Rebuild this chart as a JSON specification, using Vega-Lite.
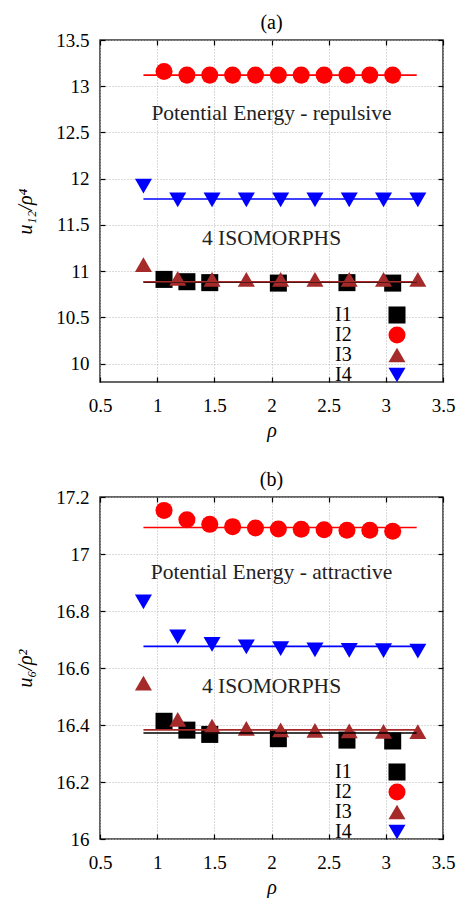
{
  "$schema": "https://vega.github.io/schema/vega-lite/v6.json",
  "padding": {"left": 15, "top": 12, "right": 0, "bottom": 0},
  "background": "white",
  "spacing": 28,
  "config": {
    "view": {"stroke": "#333333", "strokeWidth": 1.5},
    "font": "Liberation Serif",
    "axis": {
      "labelFont": "Liberation Serif",
      "labelFontSize": 19,
      "labelColor": "#000000",
      "titleFont": "Liberation Serif",
      "titleFontSize": 20,
      "titleFontWeight": "normal",
      "titleColor": "#000000",
      "domain": false,
      "tickColor": "#000000",
      "tickWidth": 1.2,
      "tickSize": -5,
      "labelFlush": false,
      "gridColor": "#b4b4b4",
      "gridDash": [1, 2],
      "gridWidth": 1
    },
    "title": {"font": "Liberation Serif", "fontSize": 20, "fontWeight": "normal", "anchor": "middle", "color": "#000000", "offset": -2},
    "legend": {
      "orient": "none",
      "legendX": 287,
      "legendY": 265,
      "direction": "vertical",
      "padding": 0,
      "labelOffset": -72,
      "labelAlign": "left",
      "labelFont": "Liberation Serif",
      "labelFontSize": 20,
      "labelColor": "#000000",
      "symbolSize": 290,
      "symbolStrokeWidth": 0,
      "rowPadding": -3
    }
  },
  "datasets": {
    "pointsA": [
      {"series": "I1", "rho": 1.06, "u": 10.91},
      {"series": "I1", "rho": 1.26, "u": 10.885},
      {"series": "I1", "rho": 1.46, "u": 10.875},
      {"series": "I1", "rho": 2.06, "u": 10.87},
      {"series": "I1", "rho": 2.66, "u": 10.875},
      {"series": "I1", "rho": 3.06, "u": 10.87},
      {"series": "I2", "rho": 1.06, "u": 13.16},
      {"series": "I2", "rho": 1.26, "u": 13.12},
      {"series": "I2", "rho": 1.46, "u": 13.12},
      {"series": "I2", "rho": 1.66, "u": 13.12},
      {"series": "I2", "rho": 1.86, "u": 13.12},
      {"series": "I2", "rho": 2.06, "u": 13.12},
      {"series": "I2", "rho": 2.26, "u": 13.12},
      {"series": "I2", "rho": 2.46, "u": 13.12},
      {"series": "I2", "rho": 2.66, "u": 13.12},
      {"series": "I2", "rho": 2.86, "u": 13.12},
      {"series": "I2", "rho": 3.06, "u": 13.12},
      {"series": "I3", "rho": 0.88, "u": 11.07},
      {"series": "I3", "rho": 1.18, "u": 10.92},
      {"series": "I3", "rho": 1.48, "u": 10.91},
      {"series": "I3", "rho": 1.78, "u": 10.91},
      {"series": "I3", "rho": 2.08, "u": 10.91},
      {"series": "I3", "rho": 2.38, "u": 10.91},
      {"series": "I3", "rho": 2.68, "u": 10.91},
      {"series": "I3", "rho": 2.98, "u": 10.91},
      {"series": "I3", "rho": 3.28, "u": 10.91},
      {"series": "I4", "rho": 0.88, "u": 11.92},
      {"series": "I4", "rho": 1.18, "u": 11.77},
      {"series": "I4", "rho": 1.48, "u": 11.77},
      {"series": "I4", "rho": 1.78, "u": 11.77},
      {"series": "I4", "rho": 2.08, "u": 11.77},
      {"series": "I4", "rho": 2.38, "u": 11.77},
      {"series": "I4", "rho": 2.68, "u": 11.77},
      {"series": "I4", "rho": 2.98, "u": 11.77},
      {"series": "I4", "rho": 3.28, "u": 11.77}
    ],
    "fitsA": [
      {"series": "I1", "rho": 0.88, "u": 10.88},
      {"series": "I1", "rho": 3.27, "u": 10.88},
      {"series": "I2", "rho": 0.88, "u": 13.12},
      {"series": "I2", "rho": 3.27, "u": 13.12},
      {"series": "I3", "rho": 0.88, "u": 10.885},
      {"series": "I3", "rho": 3.27, "u": 10.885},
      {"series": "I4", "rho": 0.88, "u": 11.78},
      {"series": "I4", "rho": 3.3, "u": 11.78}
    ],
    "pointsB": [
      {"series": "I1", "rho": 1.06, "u": 16.413},
      {"series": "I1", "rho": 1.26, "u": 16.382},
      {"series": "I1", "rho": 1.46, "u": 16.367},
      {"series": "I1", "rho": 2.06, "u": 16.352},
      {"series": "I1", "rho": 2.66, "u": 16.347},
      {"series": "I1", "rho": 3.06, "u": 16.344},
      {"series": "I2", "rho": 1.06, "u": 17.153},
      {"series": "I2", "rho": 1.26, "u": 17.12},
      {"series": "I2", "rho": 1.46, "u": 17.104},
      {"series": "I2", "rho": 1.66, "u": 17.096},
      {"series": "I2", "rho": 1.86, "u": 17.091},
      {"series": "I2", "rho": 2.06, "u": 17.088},
      {"series": "I2", "rho": 2.26, "u": 17.087},
      {"series": "I2", "rho": 2.46, "u": 17.085},
      {"series": "I2", "rho": 2.66, "u": 17.083},
      {"series": "I2", "rho": 2.86, "u": 17.083},
      {"series": "I2", "rho": 3.06, "u": 17.08},
      {"series": "I3", "rho": 0.88, "u": 16.547},
      {"series": "I3", "rho": 1.18, "u": 16.42},
      {"series": "I3", "rho": 1.48, "u": 16.396},
      {"series": "I3", "rho": 1.78, "u": 16.388},
      {"series": "I3", "rho": 2.08, "u": 16.383},
      {"series": "I3", "rho": 2.38, "u": 16.381},
      {"series": "I3", "rho": 2.68, "u": 16.379},
      {"series": "I3", "rho": 2.98, "u": 16.378},
      {"series": "I3", "rho": 3.28, "u": 16.377},
      {"series": "I4", "rho": 0.88, "u": 16.832},
      {"series": "I4", "rho": 1.18, "u": 16.709},
      {"series": "I4", "rho": 1.48, "u": 16.683},
      {"series": "I4", "rho": 1.78, "u": 16.674},
      {"series": "I4", "rho": 2.08, "u": 16.668},
      {"series": "I4", "rho": 2.38, "u": 16.664},
      {"series": "I4", "rho": 2.68, "u": 16.662},
      {"series": "I4", "rho": 2.98, "u": 16.661},
      {"series": "I4", "rho": 3.28, "u": 16.659}
    ],
    "fitsB": [
      {"series": "I1", "rho": 0.88, "u": 16.372},
      {"series": "I1", "rho": 3.27, "u": 16.372},
      {"series": "I2", "rho": 0.88, "u": 17.093},
      {"series": "I2", "rho": 3.27, "u": 17.093},
      {"series": "I3", "rho": 0.88, "u": 16.383},
      {"series": "I3", "rho": 3.27, "u": 16.383},
      {"series": "I4", "rho": 0.88, "u": 16.676},
      {"series": "I4", "rho": 3.3, "u": 16.676}
    ]
  },
  "vconcat": [
    {
      "title": {"text": "(a)"},
      "width": 343,
      "height": 342,
      "resolve": {"axis": {"x": "independent", "y": "independent"}},
      "layer": [
        {
          "data": {"name": "pointsA"},
          "mark": {"type": "point", "filled": true, "size": 290, "opacity": 1},
          "encoding": {
            "x": {"field": "rho", "type": "quantitative", "scale": {"domain": [0.5, 3.5], "nice": false, "zero": false},
                  "axis": {"orient": "bottom", "values": [0.5, 1, 1.5, 2, 2.5, 3, 3.5], "format": "~g", "grid": true, "labelPadding": 19, "title": "ρ", "titleFontStyle": "italic", "titlePadding": 5}},
            "y": {"field": "u", "type": "quantitative", "scale": {"domain": [9.8, 13.5], "nice": false, "zero": false},
                  "axis": {"orient": "left", "values": [10, 10.5, 11, 11.5, 12, 12.5, 13, 13.5], "format": "~g", "grid": true, "labelPadding": 16, "title": "u₁₂/ρ⁴", "titleFontStyle": "italic", "titlePadding": 20}},
            "color": {"field": "series", "type": "nominal", "scale": {"domain": ["I1", "I2", "I3", "I4"], "range": ["#000000", "#ff0000", "#a52a2a", "#0000ff"]}, "legend": {"title": null}},
            "shape": {"field": "series", "type": "nominal", "scale": {"domain": ["I1", "I2", "I3", "I4"], "range": ["square", "circle", "triangle-up", "triangle-down"]}, "legend": {"title": null}}
          }
        },
        {
          "data": {"name": "fitsA"},
          "mark": {"type": "line", "strokeWidth": 1.6},
          "encoding": {
            "x": {"field": "rho", "type": "quantitative", "axis": {"orient": "top", "values": [0.5, 1, 1.5, 2, 2.5, 3, 3.5], "labels": false, "grid": false, "title": null}},
            "y": {"field": "u", "type": "quantitative", "axis": {"orient": "right", "values": [10, 10.5, 11, 11.5, 12, 12.5, 13, 13.5], "labels": false, "grid": false, "title": null}},
            "stroke": {"field": "series", "type": "nominal", "scale": {"domain": ["I1", "I2", "I3", "I4"], "range": ["#000000", "#ff0000", "#a52a2a", "#0000ff"]}, "legend": null}
          }
        },
        {
          "data": {"values": [{}]},
          "mark": {"type": "text", "fontSize": 21.5, "font": "Liberation Serif", "color": "#222222", "align": "center", "baseline": "middle"},
          "encoding": {
            "x": {"datum": 2.0, "type": "quantitative", "axis": null},
            "y": {"datum": 12.7, "type": "quantitative", "axis": null},
            "text": {"value": "Potential Energy - repulsive"}
          }
        },
        {
          "data": {"values": [{}]},
          "mark": {"type": "text", "fontSize": 21.5, "font": "Liberation Serif", "color": "#222222", "align": "center", "baseline": "middle"},
          "encoding": {
            "x": {"datum": 2.0, "type": "quantitative", "axis": null},
            "y": {"datum": 11.35, "type": "quantitative", "axis": null},
            "text": {"value": "4 ISOMORPHS"}
          }
        }
      ]
    },
    {
      "title": {"text": "(b)"},
      "width": 343,
      "height": 342,
      "resolve": {"axis": {"x": "independent", "y": "independent"}},
      "layer": [
        {
          "data": {"name": "pointsB"},
          "mark": {"type": "point", "filled": true, "size": 290, "opacity": 1},
          "encoding": {
            "x": {"field": "rho", "type": "quantitative", "scale": {"domain": [0.5, 3.5], "nice": false, "zero": false},
                  "axis": {"orient": "bottom", "values": [0.5, 1, 1.5, 2, 2.5, 3, 3.5], "format": "~g", "grid": true, "labelPadding": 19, "title": "ρ", "titleFontStyle": "italic", "titlePadding": 5}},
            "y": {"field": "u", "type": "quantitative", "scale": {"domain": [16, 17.2], "nice": false, "zero": false},
                  "axis": {"orient": "left", "values": [16, 16.2, 16.4, 16.6, 16.8, 17, 17.2], "format": "~g", "grid": true, "labelPadding": 16, "title": "u₆/ρ²", "titleFontStyle": "italic", "titlePadding": 20}},
            "color": {"field": "series", "type": "nominal", "scale": {"domain": ["I1", "I2", "I3", "I4"], "range": ["#000000", "#ff0000", "#a52a2a", "#0000ff"]}, "legend": {"title": null}},
            "shape": {"field": "series", "type": "nominal", "scale": {"domain": ["I1", "I2", "I3", "I4"], "range": ["square", "circle", "triangle-up", "triangle-down"]}, "legend": {"title": null}}
          }
        },
        {
          "data": {"name": "fitsB"},
          "mark": {"type": "line", "strokeWidth": 1.6},
          "encoding": {
            "x": {"field": "rho", "type": "quantitative", "axis": {"orient": "top", "values": [0.5, 1, 1.5, 2, 2.5, 3, 3.5], "labels": false, "grid": false, "title": null}},
            "y": {"field": "u", "type": "quantitative", "axis": {"orient": "right", "values": [16, 16.2, 16.4, 16.6, 16.8, 17, 17.2], "labels": false, "grid": false, "title": null}},
            "stroke": {"field": "series", "type": "nominal", "scale": {"domain": ["I1", "I2", "I3", "I4"], "range": ["#000000", "#ff0000", "#a52a2a", "#0000ff"]}, "legend": null}
          }
        },
        {
          "data": {"values": [{}]},
          "mark": {"type": "text", "fontSize": 21.5, "font": "Liberation Serif", "color": "#222222", "align": "center", "baseline": "middle"},
          "encoding": {
            "x": {"datum": 2.0, "type": "quantitative", "axis": null},
            "y": {"datum": 16.933, "type": "quantitative", "axis": null},
            "text": {"value": "Potential Energy - attractive"}
          }
        },
        {
          "data": {"values": [{}]},
          "mark": {"type": "text", "fontSize": 21.5, "font": "Liberation Serif", "color": "#222222", "align": "center", "baseline": "middle"},
          "encoding": {
            "x": {"datum": 2.0, "type": "quantitative", "axis": null},
            "y": {"datum": 16.533, "type": "quantitative", "axis": null},
            "text": {"value": "4 ISOMORPHS"}
          }
        }
      ]
    }
  ],
  "resolve": {"scale": {"color": "independent", "shape": "independent", "stroke": "independent"}}
}
